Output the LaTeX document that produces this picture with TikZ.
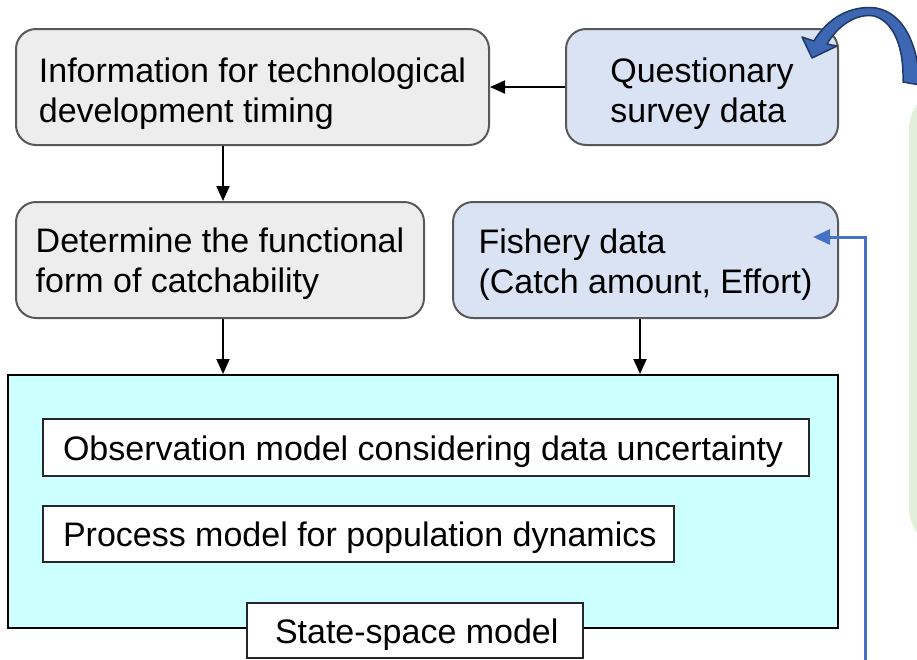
\documentclass[tikz,border=0pt]{standalone}
\usepackage{fontspec}
\setmainfont{Liberation Sans}
\usetikzlibrary{arrows.meta,calc}
\definecolor{grayfill}{HTML}{EDEDED}
\definecolor{grayline}{HTML}{595959}
\definecolor{bluefill}{HTML}{DAE3F3}
\definecolor{cyanfill}{HTML}{CCFFFF}
\definecolor{greenfill}{HTML}{E2F0D9}
\definecolor{accent}{HTML}{4472C4}
\definecolor{accentdark}{HTML}{203864}
\definecolor{accentmid}{HTML}{3D67B3}
\newcommand{\lowertext}[1]{\raisebox{-4pt}[\height][\depth]{#1}}
\tikzset{
  txt/.style={font=\fontsize{34}{40}\selectfont, text=black, inner sep=0pt},
  topbox/.style={draw=grayline, line width=2pt, rounded corners=20pt, inner sep=0pt},
  graybox/.style={topbox, fill=grayfill},
  bluebox/.style={topbox, fill=bluefill},
  innerbox/.style={txt, draw=black!85, line width=2pt, fill=white, inner xsep=20pt, inner ysep=0pt, anchor=west},
  arr/.style={line width=2pt, -{Triangle[length=15pt,width=13pt]}},
  bluearr/.style={draw=accent, line width=3pt, -{Triangle[length=17pt,width=15pt]}},
}
\begin{document}
\begin{tikzpicture}[x=1pt,y=-1pt]
\useasboundingbox (0,0) rectangle (917,659);
\clip (0,0) rectangle (917,659);
% green background shape on the right (cropped)
\fill[greenfill, rounded corners=42pt] (909,87) rectangle (1000,550);
% top boxes
\node[graybox, minimum width=473pt, minimum height=116pt] (box1) at (252.5,87) {};
\node[txt, align=left] (box1t) at ($(box1.center)+(0,7)$) {Information for technological\\development timing};
\node[bluebox, minimum width=272pt, minimum height=116pt] (box2) at (702,87) {};
\node[txt, align=left] (box2t) at ($(box2.center)+(0,7)$) {Questionary\\survey data};
\node[graybox, minimum width=408pt, minimum height=116pt] (box3) at (220,260) {};
\node[txt, align=left] (box3t) at ($(box3.center)+(0,4)$) {Determine the functional\\form of catchability};
\node[bluebox, minimum width=385pt, minimum height=116pt] (box4) at (645.5,260) {};
\node[txt, align=left] (box4t) at ($(box4.center)+(0,5)$) {Fishery data\\(Catch amount, Effort)};
% state-space model container
\node[draw=black, line width=2pt, fill=cyanfill, minimum width=830pt, minimum height=253pt, inner sep=0pt] (ssm) at (423,501.5) {};
\node[innerbox, minimum height=57pt] (obs) at (42,447.5) {\lowertext{\makebox[726pt][l]{Observation model considering data uncertainty}}};
\node[innerbox, minimum height=56pt] (proc) at (42,534) {\lowertext{\makebox[591pt][l]{Process model for population dynamics}}};
\node[innerbox, minimum height=55pt, inner xsep=28pt] (ssl) at (246,630.5) {\lowertext{\makebox[280pt][l]{State-space model}}};
% connectors
\coordinate (cA) at (223,0);
\coordinate (cB) at (640,0);
\draw[arr] (box2.west) -- (box1.east);
\draw[arr] (box1.south -| cA) -- (box3.north -| cA);
\draw[arr] (box3.south -| cA) -- (ssm.north -| cA);
\draw[arr] (box4.south -| cB) -- (ssm.north -| cB);
\coordinate (bstart) at (865,662);
\coordinate (bend) at (813,237);
\draw[bluearr] (bstart) |- (bend);
% curved block arrow
\filldraw[fill=accentmid, draw=accentdark, line width=1.5pt, line join=round]
  (814,41) .. controls (828,17) and (852,5) .. (876,8)
  .. controls (904,13) and (918,45) .. (920,85)
  -- (903,82)
  .. controls (904,50) and (895,22) .. (874,16)
  .. controls (855,13) and (837,27) .. (827,44)
  -- (837,46) -- (812,58) -- (802,37) -- cycle;
\end{tikzpicture}
\end{document}
